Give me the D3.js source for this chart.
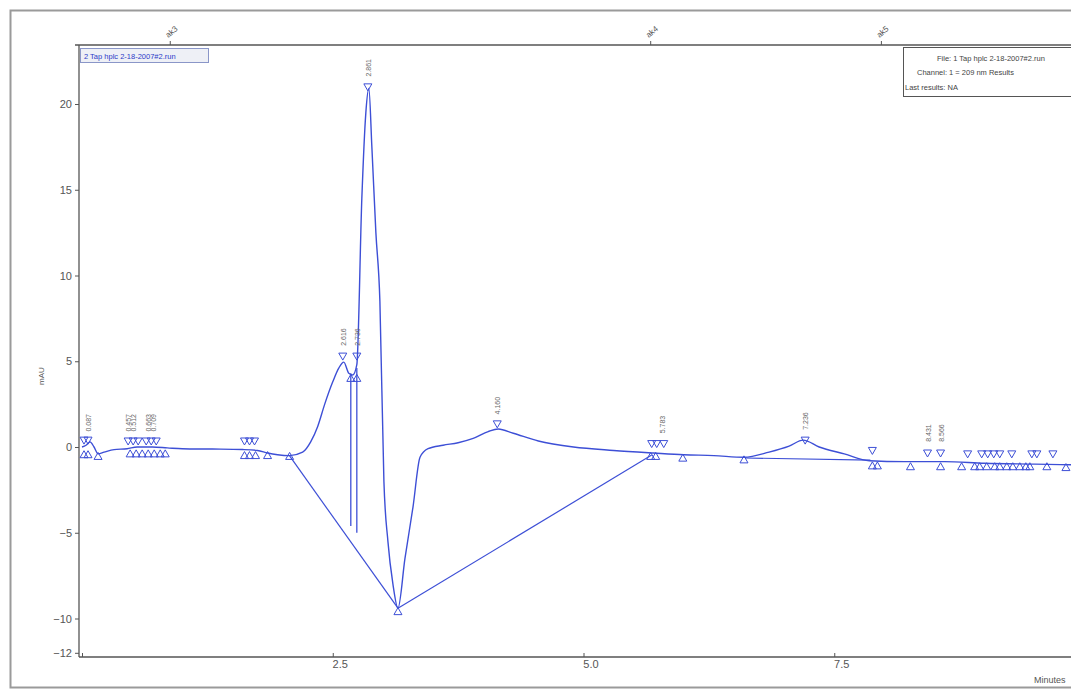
<!DOCTYPE html>
<html>
<head>
<meta charset="utf-8">
<script src="https://cdn.jsdelivr.net/npm/d3@7"></script>
<style>
  body { margin: 0; background: #fff; }
  svg { display: block; font-family: "Liberation Sans", Arial, sans-serif; }
</style>
</head>
<body>
<div id="chart"></div>
<script>
// chromatogram trace (minutes, mAU)
const traceTime = [0.00, 0.04, 0.08, 0.12, 0.16, 0.22, 0.32, 0.45, 0.55, 0.70, 0.85, 1.00, 1.30, 1.60, 1.75, 1.85, 1.95, 2.07,
  2.20, 2.28, 2.35, 2.42, 2.50, 2.56, 2.61, 2.66, 2.70, 2.74, 2.79, 2.83, 2.86, 2.89, 2.93, 2.97, 3.01, 3.05, 3.10, 3.15,
  3.22, 3.30, 3.37, 3.45, 3.60, 3.75, 3.90, 4.05, 4.15, 4.30, 4.55, 4.90, 5.30, 5.70, 6.00, 6.30, 6.60, 6.85, 7.05, 7.19,
  7.35, 7.60, 7.85, 8.20, 8.60, 9.00, 9.50, 10.0];
const traceAbs = [0.0, 0.1, 0.3, 0.0, -0.4, -0.3, -0.15, -0.1, 0.0, 0.0, -0.05, -0.1, -0.12, -0.15, -0.2, -0.35, -0.45, -0.5,
  -0.3, 0.3, 1.2, 2.5, 3.8, 4.6, 4.95, 4.3, 4.2, 4.8, 14.5, 19.5, 20.9, 17.5, 12.5, 8.5, -2.0, -5.5, -8.0, -9.4,
  -6.5, -3.5, -0.6, -0.1, 0.1, 0.25, 0.5, 0.9, 1.05, 0.8, 0.35, 0.0, -0.2, -0.35, -0.45, -0.5, -0.6, -0.3, 0.05, 0.4,
  0.0, -0.4, -0.8, -0.85, -0.85, -0.95, -1.0, -1.05];

// integration baselines [t1, v1, t2, v2]
const baselines = [
  [2.07, -0.52, 3.15, -9.4],
  [3.15, -9.4, 5.68, -0.47],
  [6.61, -0.64, 7.86, -0.76]
];
// drop lines [t, top, bottom]
const dropLines = [
  [2.68, 4.3, -4.6],
  [2.74, 4.6, -5.0]
];

// peak top markers (open down triangles)
const topMarkTime = [0.02, 0.06, 0.46, 0.51, 0.56, 0.64, 0.69, 0.74, 1.62, 1.67, 1.72, 2.60, 2.74, 2.85, 4.14,
  5.68, 5.73, 5.80, 7.21, 7.88, 8.43, 8.56, 8.83, 8.97, 9.03, 9.09, 9.15, 9.27, 9.47, 9.52, 9.68];
const topMarkAbs = [0.4, 0.4, 0.35, 0.35, 0.35, 0.35, 0.35, 0.35, 0.35, 0.35, 0.35, 5.3, 5.3, 21.0, 1.35,
  0.2, 0.2, 0.2, 0.4, -0.2, -0.35, -0.35, -0.4, -0.4, -0.4, -0.4, -0.4, -0.4, -0.4, -0.4, -0.4];

// peak start / end markers (open up triangles)
const endMarkTime = [0.02, 0.06, 0.16, 0.48, 0.54, 0.60, 0.66, 0.72, 0.78, 0.83, 1.62, 1.67, 1.73, 1.85, 2.07,
  2.68, 2.74, 3.15, 5.67, 5.72, 5.99, 6.60, 7.88, 7.93, 8.26, 8.56, 8.77, 8.90, 8.95, 9.02, 9.10, 9.15, 9.22, 9.28,
  9.35, 9.41, 9.45, 9.62, 9.81];
const endMarkAbs = [-0.45, -0.45, -0.55, -0.4, -0.4, -0.4, -0.4, -0.4, -0.4, -0.4, -0.5, -0.5, -0.5, -0.5, -0.55,
  4.0, 4.0, -9.6, -0.55, -0.55, -0.65, -0.75, -1.1, -1.1, -1.15, -1.15, -1.15, -1.15, -1.15, -1.15, -1.15, -1.15,
  -1.15, -1.15, -1.15, -1.15, -1.15, -1.15, -1.2];

// retention time labels
const peakTime = [0.06, 0.46, 0.51, 0.66, 0.71, 2.60, 2.74, 2.85, 4.14, 5.78, 7.21, 8.43, 8.56];
const peakAbs = [0.9, 0.9, 0.9, 0.9, 0.9, 5.9, 5.9, 21.6, 1.9, 0.8, 1.0, 0.3, 0.3];
const peakLabel = ["0.087", "0.457", "0.512", "0.663", "0.709", "2.616", "2.736", "2.861", "4.160", "5.783", "7.236", "8.431", "8.566"];

// timed events along the top axis
const eventTime = [0.88, 5.67, 7.97];
const eventLabel = ["ak3", "ak4", "ak5"];

const yTicks = [-12, -10, -5, 0, 5, 10, 15, 20];
const xTicks = [0, 2.5, 5.0, 7.5];

const width = 1071, height = 691;
const blue = '#3d4fd6';

const svg = d3.select('#chart').append('svg')
  .attr('width', width)
  .attr('height', height);

// outer frame
svg.append('rect')
  .attr('x', 10.5).attr('y', 10.5)
  .attr('width', width + 20).attr('height', height - 14)
  .attr('fill', '#fff')
  .attr('stroke', '#9a9a9a')
  .attr('stroke-width', 2);

const x = d3.scaleLinear().domain([0, 10]).range([82, 1085]);
const y = d3.scaleLinear().domain([-12, 20]).range([652.8, 104]);

const plotLeft = 79, plotTop = 45, plotBottom = 657;

svg.append('defs').append('clipPath').attr('id', 'plot')
  .append('rect').attr('x', plotLeft).attr('y', plotTop)
  .attr('width', width - plotLeft).attr('height', plotBottom - plotTop + 4);

// axes
const yAxis = svg.append('g')
  .attr('transform', `translate(${plotLeft},0)`)
  .call(d3.axisLeft(y).tickValues(yTicks).tickSize(4).tickFormat(d3.format('d')));
yAxis.select('.domain').attr('d', `M0,${plotTop}V${plotBottom}`);

const xAxis = svg.append('g')
  .attr('transform', `translate(0,${plotBottom})`)
  .call(d3.axisBottom(x).tickValues(xTicks).tickSize(-4).tickFormat(d => d === 0 ? '' : d3.format('.1f')(d)));
xAxis.select('.domain').attr('d', `M${plotLeft},0H${width}`);
xAxis.selectAll('text').attr('dx', 7).attr('dy', 8);

[yAxis, xAxis].forEach(a => {
  a.selectAll('.domain').attr('stroke', '#555').attr('stroke-width', 1.3);
  a.selectAll('line').attr('stroke', '#555');
  a.selectAll('text').attr('fill', '#555').style('font-size', '11px');
});

// top axis with events
svg.append('line')
  .attr('x1', plotLeft - 4).attr('x2', width)
  .attr('y1', plotTop).attr('y2', plotTop)
  .attr('stroke', '#555').attr('stroke-width', 1.3);
eventTime.forEach((t, i) => {
  svg.append('line')
    .attr('x1', x(t)).attr('x2', x(t))
    .attr('y1', plotTop - 4).attr('y2', plotTop)
    .attr('stroke', '#555');
  svg.append('text')
    .attr('transform', `translate(${x(t) - 2},${plotTop - 7}) rotate(-40)`)
    .attr('fill', '#555')
    .style('font-size', '8px')
    .text(eventLabel[i]);
});

// axis titles
svg.append('text')
  .attr('transform', 'translate(44,376) rotate(-90)')
  .attr('text-anchor', 'middle')
  .attr('fill', '#555')
  .style('font-size', '8px')
  .text('mAU');
svg.append('text')
  .attr('x', 1034).attr('y', 683)
  .attr('fill', '#555')
  .style('font-size', '9px')
  .text('Minutes');

const plot = svg.append('g').attr('clip-path', 'url(#plot)');

// trace
const trace = traceTime.map((t, i) => [t, traceAbs[i]]);
plot.append('path')
  .datum(trace)
  .attr('fill', 'none')
  .attr('stroke', blue)
  .attr('stroke-width', 1.4)
  .attr('d', d3.line().x(d => x(d[0])).y(d => y(d[1])).curve(d3.curveMonotoneX));

// baselines and drop lines
plot.selectAll('.base')
  .data(baselines)
  .enter().append('line')
  .attr('x1', d => x(d[0])).attr('y1', d => y(d[1]))
  .attr('x2', d => x(d[2])).attr('y2', d => y(d[3]))
  .attr('stroke', blue).attr('stroke-width', 1.2);
plot.selectAll('.drop')
  .data(dropLines)
  .enter().append('line')
  .attr('x1', d => x(d[0])).attr('y1', d => y(d[1]))
  .attr('x2', d => x(d[0])).attr('y2', d => y(d[2]))
  .attr('stroke', blue).attr('stroke-width', 1.3);

// markers
const tri = (cx, cy, up) => up
  ? `M${cx},${cy - 4}L${cx + 4},${cy + 3}L${cx - 4},${cy + 3}Z`
  : `M${cx - 4},${cy - 3}L${cx + 4},${cy - 3}L${cx},${cy + 4}Z`;

plot.selectAll('.top')
  .data(topMarkTime)
  .enter().append('path')
  .attr('d', (t, i) => tri(x(t), y(topMarkAbs[i]), false))
  .attr('fill', 'none').attr('stroke', blue).attr('stroke-width', 1);
plot.selectAll('.end')
  .data(endMarkTime)
  .enter().append('path')
  .attr('d', (t, i) => tri(x(t), y(endMarkAbs[i]), true))
  .attr('fill', 'none').attr('stroke', blue).attr('stroke-width', 1);

// retention time labels
plot.selectAll('.lbl')
  .data(peakTime)
  .enter().append('text')
  .attr('transform', (t, i) => `translate(${x(t) + 3},${y(peakAbs[i])}) rotate(-90)`)
  .attr('fill', '#666')
  .style('font-size', '7px')
  .text((t, i) => peakLabel[i]);

// legend boxes
const lg = svg.append('g');
lg.append('rect')
  .attr('x', 80.5).attr('y', 48.5).attr('width', 128).attr('height', 14)
  .attr('fill', '#eef0f6').attr('stroke', '#8a96c8');
lg.append('text')
  .attr('x', 84).attr('y', 59)
  .attr('fill', '#2b3bc8')
  .style('font-size', '7.5px')
  .text('2 Tap hplc 2-18-2007#2.run');

lg.append('rect')
  .attr('x', 903.5).attr('y', 47.5).attr('width', 180).attr('height', 49)
  .attr('fill', '#fff').attr('stroke', '#555');
lg.append('text').attr('x', 937).attr('y', 61)
  .attr('fill', '#444').style('font-size', '7.5px')
  .text('File: 1 Tap hplc 2-18-2007#2.run');
lg.append('text').attr('x', 917).attr('y', 75)
  .attr('fill', '#444').style('font-size', '7.5px')
  .text('Channel: 1 = 209 nm Results');
lg.append('text').attr('x', 905).attr('y', 90)
  .attr('fill', '#444').style('font-size', '7.5px')
  .text('Last results: NA');
</script>
</body>
</html>
